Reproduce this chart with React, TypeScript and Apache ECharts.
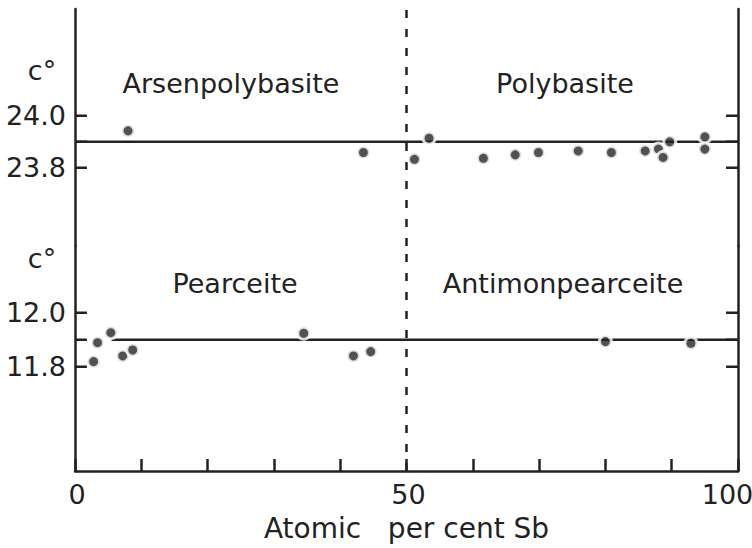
import React, { useEffect, useRef } from "react";
import * as echarts from "echarts";

// Upper panel: polybasite group (c° ≈ 24 Å)
const upperSb = [8.0, 43.5, 51.2, 53.4, 61.6, 66.4, 69.9, 75.9, 80.9, 86.0, 88.0, 88.7, 89.7, 95.0, 95.0];
const upperC = [23.942, 23.859, 23.833, 23.914, 23.837, 23.85, 23.859, 23.865, 23.859, 23.865, 23.872, 23.84, 23.9, 23.919, 23.872];
// Lower panel: pearceite group (c° ≈ 12 Å)
const lowerSb = [2.8, 3.4, 5.4, 7.2, 8.7, 34.5, 42.0, 44.6, 80.0, 92.9];
const lowerC = [11.819, 11.889, 11.926, 11.84, 11.862, 11.924, 11.84, 11.856, 11.893, 11.887];
// Mean lines
const upperLineSb = [0, 100];
const upperLineC = [23.9, 23.9];
const lowerLineSb = [5.5, 100];
const lowerLineC = [11.9, 11.9];
// Axis ticks / labels
const xLabelValues = [0, 50, 100];
const upperTickValues = [23.8, 23.9, 24.0];
const upperLabelValues = [23.8, 24.0];
const lowerTickValues = [11.8, 11.9, 12.0];
const lowerLabelValues = [11.8, 12.0];
const boundarySb = 50;
const fieldNames = ["Arsenpolybasite", "Polybasite", "Pearceite", "Antimonpearceite"];
const xTitle = "Atomic\u00A0\u00A0 per cent Sb";
const yTitle = "c°";

const INK = "#222222";
const FONT = "DejaVu Sans";
const TICK_LEN_SB = 1.8; // inward tick length expressed in x-axis units (~12px)

export default function App() {
  const ref = useRef<HTMLDivElement>(null);
  useEffect(() => {
    if (!ref.current) return;
    const chart = echarts.init(ref.current, undefined, { renderer: "svg" });
    const yAxisBase = (grid: number, min: number, max: number, labels: number[], pos: "left" | "right") => ({
      type: "value",
      gridIndex: grid,
      position: pos,
      min,
      max,
      splitLine: { show: false },
      axisLine: { show: true, lineStyle: { color: INK, width: 2.5 } },
      axisTick: { show: false },
      axisLabel: {
        show: pos === "left",
        customValues: labels,
        margin: 9,
        color: INK,
        fontFamily: FONT,
        fontSize: 27,
        formatter: (v: number) => v.toFixed(1),
      },
    });
    const pts = (xs: number[], ys: number[]) => xs.map((x, i) => [x, ys[i]]);
    const lineStyleSeries = {
      type: "line",
      showSymbol: false,
      symbol: "none",
      silent: true,
      z: 3,
      lineStyle: { color: INK, width: 2.5 },
    };
    // inward ticks on the left (x=0) and right (x=100) frame lines
    const tickSeries = (xi: number, yi: number, vals: number[]) => {
      const out: any[] = [];
      vals.forEach((v) => {
        out.push({ ...lineStyleSeries, xAxisIndex: xi, yAxisIndex: yi, data: [[0, v], [TICK_LEN_SB, v]] });
        out.push({ ...lineStyleSeries, xAxisIndex: xi, yAxisIndex: yi, data: [[100 - TICK_LEN_SB, v], [100, v]] });
      });
      return out;
    };
    const scatterStyle = {
      type: "scatter",
      symbol: "circle",
      symbolSize: 12,
      z: 5,
      itemStyle: { color: "#262626", borderColor: "#ffffff", borderWidth: 3 },
    };
    const vLine = {
      silent: true,
      symbol: "none",
      label: { show: false },
      lineStyle: { color: INK, width: 2.5, type: [8, 11] },
      data: [{ xAxis: boundarySb }],
    };
    const textEl = (text: string, x: number, y: number) => ({
      type: "text",
      x,
      y,
      style: { text, fill: INK, font: `27px "${FONT}"`, textAlign: "center", textVerticalAlign: "middle" },
    });
    chart.setOption({
      animation: false,
      backgroundColor: "#ffffff",
      grid: [
        { left: 75, right: 14, top: 9, height: 237, outerBoundsMode: "none", containLabel: false },
        { left: 75, right: 14, top: 246, height: 225, outerBoundsMode: "none", containLabel: false },
      ],
      xAxis: [
        { type: "value", gridIndex: 0, min: 0, max: 100, show: false },
        {
          type: "value",
          gridIndex: 1,
          min: 0,
          max: 100,
          interval: 10,
          splitLine: { show: false },
          axisLine: { show: true, lineStyle: { color: INK, width: 2.5 } },
          axisTick: { show: true, inside: true, length: 12, lineStyle: { color: INK, width: 2.5 } },
          axisLabel: {
            customValues: xLabelValues,
            margin: 10,
            color: INK,
            fontFamily: FONT,
            fontSize: 27,
            hideOverlap: false,
            formatter: (v: number) => (v === 100 ? "{e|100}" : `{a|${v}}`),
            rich: {
              a: { fontFamily: FONT, fontSize: 27, color: INK, padding: [0, 0, 0, 4] },
              e: { fontFamily: FONT, fontSize: 27, color: INK, padding: [0, 21, 0, 0] },
            },
          },
          name: xTitle,
          nameLocation: "middle",
          nameGap: 43,
          nameTextStyle: { color: INK, fontFamily: FONT, fontSize: 28 },
        },
      ],
      yAxis: [
        yAxisBase(0, 23.5, 24.41, upperLabelValues, "left"),
        yAxisBase(0, 23.5, 24.41, upperLabelValues, "right"),
        yAxisBase(1, 11.414, 12.247, lowerLabelValues, "left"),
        yAxisBase(1, 11.414, 12.247, lowerLabelValues, "right"),
      ],
      series: [
        { ...lineStyleSeries, xAxisIndex: 0, yAxisIndex: 0, data: pts(upperLineSb, upperLineC), markLine: vLine },
        { ...scatterStyle, xAxisIndex: 0, yAxisIndex: 0, data: pts(upperSb, upperC) },
        { ...lineStyleSeries, xAxisIndex: 1, yAxisIndex: 2, data: pts(lowerLineSb, lowerLineC), markLine: vLine },
        { ...scatterStyle, xAxisIndex: 1, yAxisIndex: 2, data: pts(lowerSb, lowerC) },
        ...tickSeries(0, 0, upperTickValues),
        ...tickSeries(1, 2, lowerTickValues),
      ],
      graphic: [
        textEl(fieldNames[0], 231, 83),
        textEl(fieldNames[1], 565, 83),
        textEl(fieldNames[2], 235, 283),
        textEl(fieldNames[3], 563, 283),
        textEl(yTitle, 42, 70),
        textEl(yTitle, 42, 258),
      ],
    });
    return () => chart.dispose();
  }, []);
  return <div ref={ref} style={{ position: "fixed", left: 0, top: 0, width: 752, height: 548, background: "#fff" }} />;
}
